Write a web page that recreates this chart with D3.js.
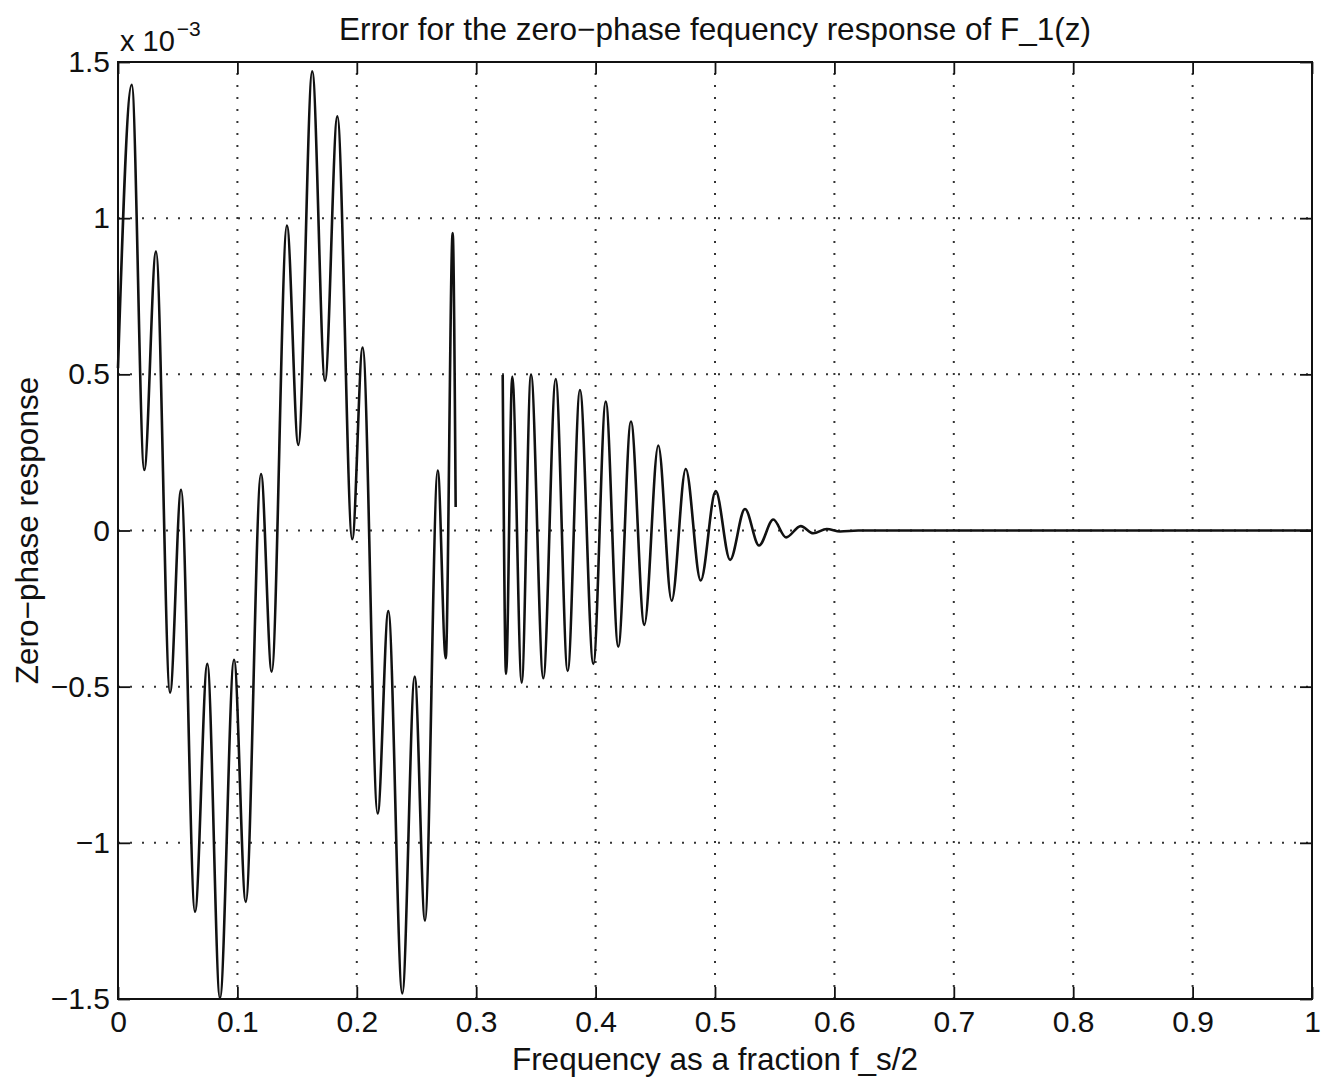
<!DOCTYPE html>
<html>
<head>
<meta charset="utf-8">
<script src="https://cdn.jsdelivr.net/npm/d3@7"></script>
<style>
  html, body { margin: 0; padding: 0; background: #fff; }
  svg { display: block; }
  text { font-family: "Liberation Sans", Arial, Helvetica, sans-serif; fill: #111; }
</style>
</head>
<body>
<svg id="chart" width="1338" height="1083"></svg>
<script>
// Frequency (fraction of f_s/2) and zero-phase error (×10^-3), first band
const freqBandA = [0, 0.0115, 0.0220, 0.0318, 0.0436, 0.0528, 0.0645, 0.0748, 0.0854, 0.0972,
  0.1070, 0.1198, 0.1287, 0.1415, 0.1510, 0.1627, 0.1734, 0.1837, 0.1962, 0.2049,
  0.2175, 0.2264, 0.2381, 0.2485, 0.2571, 0.2678, 0.2745, 0.2803, 0.2828];
const errBandA = [0.52, 1.427, 0.194, 0.893, -0.519, 0.130, -1.221, -0.427, -1.497, -0.414,
  -1.189, 0.181, -0.452, 0.976, 0.274, 1.470, 0.479, 1.326, -0.028, 0.586,
  -0.906, -0.258, -1.482, -0.468, -1.249, 0.192, -0.409, 0.952, 0.075];

// Second band, decaying ripple out to the Nyquist frequency
const freqBandB = [0.3222, 0.3250, 0.3302, 0.3381, 0.3459, 0.3562, 0.3666, 0.3766, 0.3869, 0.3981,
  0.4085, 0.4190, 0.4296, 0.4408, 0.4525, 0.4637, 0.4755, 0.4880, 0.5006, 0.5126,
  0.5251, 0.5369, 0.5488, 0.5595, 0.5718, 0.5823, 0.5936, 0.6047, 0.6200, 1.0];
const errBandB = [0.498, -0.459, 0.493, -0.487, 0.500, -0.473, 0.485, -0.450, 0.450, -0.427,
  0.413, -0.372, 0.349, -0.302, 0.272, -0.225, 0.197, -0.160, 0.126, -0.094,
  0.069, -0.048, 0.035, -0.022, 0.014, -0.009, 0.005, -0.003, 0.0, 0.0];

const xTicks = [0, 0.1, 0.2, 0.3, 0.4, 0.5, 0.6, 0.7, 0.8, 0.9, 1];
const yTicks = [-1.5, -1, -0.5, 0, 0.5, 1, 1.5];
const yTickLabels = ["\u22121.5", "\u22121", "\u22120.5", "0", "0.5", "1", "1.5"];

const titleText = "Error for the zero\u2212phase fequency response of F_1(z)";
const xLabelText = "Frequency as a fraction f_s/2";
const yLabelText = "Zero\u2212phase response";

const svg = d3.select("#chart");
const box = { left: 118, right: 1312, top: 62, bottom: 999 };
const W = box.right - box.left, H = box.bottom - box.top;
const tickFont = 30, labelFont = 31.5;

const x = d3.scaleLinear().domain([0, 1]).range([box.left, box.right]);
const y = d3.scaleLinear().domain([-1.5, 1.5]).range([box.bottom, box.top]);

svg.append("rect").attr("width", 1338).attr("height", 1083).attr("fill", "#fff");

// dotted grid
const grid = svg.append("g").attr("stroke", "#333").attr("stroke-width", 2)
  .attr("stroke-dasharray", "2,10");
grid.selectAll("line.gx").data(xTicks.slice(1, -1)).join("line")
  .attr("x1", d => x(d)).attr("x2", d => x(d))
  .attr("y1", box.bottom).attr("y2", box.top);
grid.selectAll("line.gy").data(yTicks.slice(1, -1)).join("line")
  .attr("y1", d => y(d)).attr("y2", d => y(d))
  .attr("x1", box.left).attr("x2", box.right);

// axes with inward ticks on all four sides
const tickFmtY = d => yTickLabels[yTicks.indexOf(d)];
const axB = d3.axisBottom(x).tickValues(xTicks).tickSize(-12).tickPadding(12).tickFormat(d3.format("~g"));
const axT = d3.axisTop(x).tickValues(xTicks).tickSize(-12).tickFormat("");
const axL = d3.axisLeft(y).tickValues(yTicks).tickSize(-12).tickPadding(8).tickFormat(tickFmtY);
const axR = d3.axisRight(y).tickValues(yTicks).tickSize(-12).tickFormat("");

function style(g) {
  g.select(".domain").remove();
  g.selectAll(".tick line").attr("stroke", "#111").attr("stroke-width", 1.8);
  g.selectAll("text").attr("font-size", tickFont).attr("fill", "#111")
    .style("font-family", '"Liberation Sans", Arial, Helvetica, sans-serif');
}
svg.append("g").attr("transform", `translate(0,${box.bottom})`).call(axB).call(style);
svg.append("g").attr("transform", `translate(0,${box.top})`).call(axT).call(style);
svg.append("g").attr("transform", `translate(${box.left},0)`).call(axL).call(style);
svg.append("g").attr("transform", `translate(${box.right},0)`).call(axR).call(style);

// frame
svg.append("rect").attr("x", box.left).attr("y", box.top).attr("width", W).attr("height", H)
  .attr("fill", "none").attr("stroke", "#111").attr("stroke-width", 2);

// response curves
const line = d3.line().x(d => x(d[0])).y(d => y(d[1])).curve(d3.curveMonotoneX);
const bands = [d3.zip(freqBandA, errBandA), d3.zip(freqBandB, errBandB)];
svg.append("g").selectAll("path").data(bands).join("path")
  .attr("d", line).attr("fill", "none").attr("stroke", "#111")
  .attr("stroke-width", 2.6).attr("stroke-linejoin", "round");

// exponent marker
const expo = svg.append("text").attr("x", 120).attr("y", 51).attr("font-size", 29);
expo.append("tspan").text("x 10");
expo.append("tspan").attr("dx", 2).attr("dy", -15).attr("font-size", 21).text("\u22123");

// title and axis labels
svg.append("text").attr("x", (box.left + box.right) / 2).attr("y", 40)
  .attr("text-anchor", "middle").attr("font-size", labelFont).text(titleText);
svg.append("text").attr("x", (box.left + box.right) / 2).attr("y", 1070)
  .attr("text-anchor", "middle").attr("font-size", labelFont).text(xLabelText);
svg.append("text").attr("transform", `translate(38,${(box.top + box.bottom) / 2}) rotate(-90)`)
  .attr("text-anchor", "middle").attr("font-size", labelFont).text(yLabelText);
</script>
</body>
</html>
